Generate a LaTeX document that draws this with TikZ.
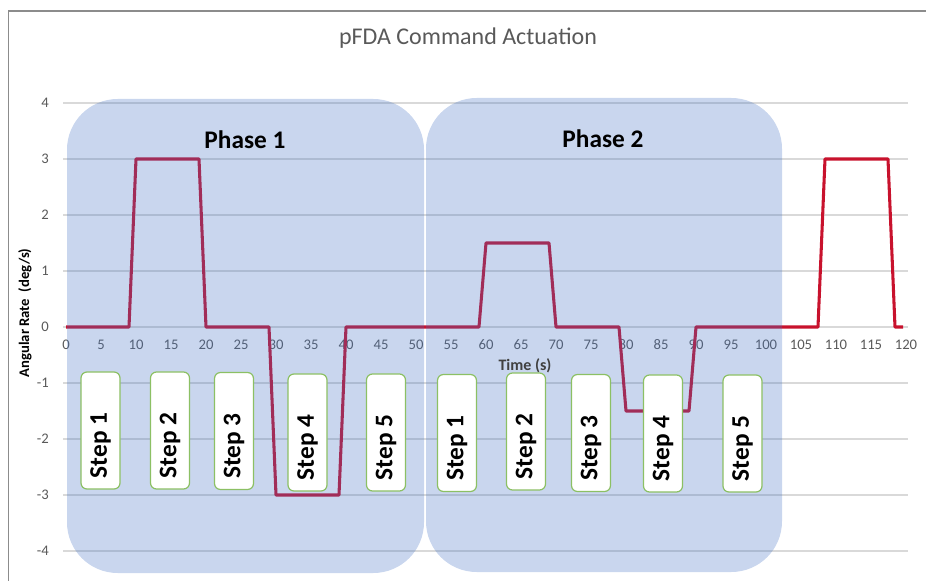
\documentclass[tikz,border=0pt]{standalone}
\usepackage{fontspec}
\setmainfont{Carlito}
\definecolor{gridgray}{RGB}{217,217,217}
\definecolor{framegray}{RGB}{140,140,140}
\definecolor{ticktext}{RGB}{89,89,89}
\definecolor{axistitle}{RGB}{64,64,64}
\definecolor{curvered}{RGB}{200,18,45}
\definecolor{phaseblue}{RGB}{68,114,196}
\definecolor{stepgreen}{RGB}{140,192,100}
\begin{document}
\begin{tikzpicture}[x=0.75pt,y=-0.75pt,
  gridln/.style={draw=gridgray, line width=0.8pt},
  frameln/.style={draw=framegray, line width=1.1pt},
  ytick/.style={anchor=east, text=ticktext, font=\fontsize{11}{12}\selectfont, inner sep=0pt},
  xtick/.style={anchor=center, text=ticktext, font=\fontsize{11}{12}\selectfont, inner sep=0pt},
  curveln/.style={draw=curvered, line width=2.3pt, line join=round},
  phasebox/.style={fill=phaseblue, fill opacity=0.29, rounded corners=38pt, inner sep=0pt,
    minimum width=357*0.75pt, minimum height=474*0.75pt},
  phasetitle/.style={font=\bfseries\fontsize{19}{22}\selectfont, text=black},
  stepbox/.style={draw=stepgreen, line width=0.9pt, fill=white, rounded corners=4.5pt,
    minimum width=29.25pt, minimum height=87.75pt, inner sep=0pt},
  steptext/.style={rotate=90, font=\bfseries\fontsize{19}{22}\selectfont, text=black, inner sep=0pt},
  charttitle/.style={font=\fontsize{18}{21}\selectfont, text=ticktext},
  axlabel/.style={font=\bfseries\fontsize{12}{14}\selectfont, text=axistitle},
  aylabel/.style={rotate=90, font=\bfseries\fontsize{11}{13}\selectfont, text=black}]
\useasboundingbox (0,0) rectangle (926,581);
% frame
\draw[frameln] (926,11) -- (8.5,11) -- (8.5,581);
% title
\node[charttitle] (title) at (468,38) {pFDA Command Actuation};
% gridlines and y ticks
\foreach \v [count=\i] in {4,3,...,-4} {
  \draw[gridln] (63,{327-56*\v}) -- (908,{327-56*\v});
  \node[ytick] (yt\i) at (49,{327-56*\v}) {\v};
}
% x ticks
\foreach \t [count=\i] in {0,5,...,120} {
  \node[xtick] (xt\i) at ({66+7*\t},345) {\t};
}
% data curve
\draw[curveln] plot coordinates {(66,327) (129,327) (136,159) (199,159) (206,327) (269,327) (276,495) (339,495) (346,327) (479,327) (486,243) (549,243) (556,327) (619,327) (626,411) (689,411) (696,327) (818,327) (825,159) (888,159) (895,327) (903,327)};
% phase boxes
\node[phasebox] (ph1) at (245.5,336) {};
\node[phasebox, minimum width=356*0.75pt] (ph2) at (604,335) {};
\node[phasetitle] (ph1t) at (245,140) {Phase 1};
\node[phasetitle] (ph2t) at (603,139) {Phase 2};
% axis labels
\node[axlabel] (xlab) at (525,366) {Time (s)};
\node[aylabel] (ylab) at (25,313) {Angular Rate\ \ (deg/s)};
% step boxes
\foreach \n/\x/\y/\lbl in {a1/100.5/430.5/Step 1, a2/170/430.5/Step 2, a3/234/431/Step 3, a4/307.5/432.5/Step 4, a5/386/432.5/Step 5,
  b1/457/433/Step 1, b2/526/431.5/Step 2, b3/591/433/Step 3, b4/663/433.5/Step 4, b5/742.5/433.5/Step 5} {
  \node[stepbox] (\n) at (\x,\y) {};
  \node[steptext] (\n t) at (\x,{\y+15}) {\lbl};
}
\end{tikzpicture}
\end{document}
